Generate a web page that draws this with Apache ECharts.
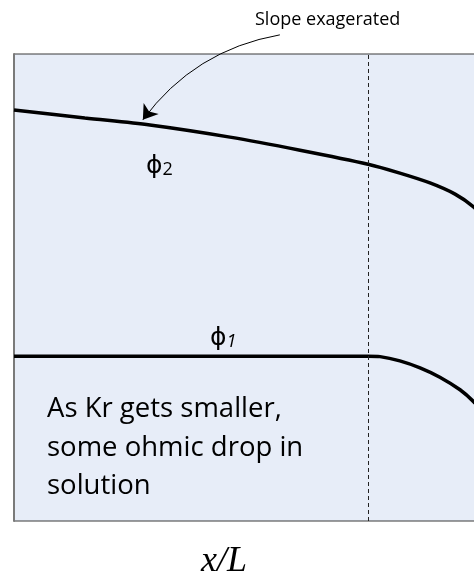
<!DOCTYPE html>
<html>
<head>
<meta charset="utf-8">
<script src="https://cdn.jsdelivr.net/npm/echarts@6/dist/echarts.min.js"></script>
<style>
  html, body { margin: 0; padding: 0; background: #ffffff; }
  #chart { width: 474px; height: 573px; }
</style>
</head>
<body>
<div id="chart"></div>
<script>
// Potential profiles along the cell, position in x/L (separator at x/L = 1)
const phi2X = [0, 0.2, 0.384, 0.61, 0.808, 1.0, 1.09, 1.175, 1.246, 1.299, 1.345];
const phi2Y = [0.880, 0.863, 0.848, 0.822, 0.794, 0.764, 0.745, 0.724, 0.700, 0.672, 0.634];
const phi1X = [0, 0.5, 1.0, 1.034, 1.090, 1.147, 1.203, 1.260, 1.299, 1.345];
const phi1Y = [0.353, 0.353, 0.353, 0.352, 0.343, 0.328, 0.308, 0.281, 0.255, 0.216];
const separatorX = 1.0;

// Annotation arrow: from the note down to the phi2 curve
const arrowFrom = [0.751, 1.041];
const arrowTo = [0.364, 0.859];

const pairs = (xs, ys) => xs.map((x, i) => [x, ys[i]]);

const chart = echarts.init(document.getElementById('chart'), null, { renderer: 'canvas' });

const curveStyle = { color: '#000000', width: 3.5 };

chart.setOption({
  animation: false,
  backgroundColor: '#ffffff',
  grid: {
    show: true,
    left: 14,
    top: 54,
    width: 495.6,
    height: 467,
    outerBoundsMode: 'none',
    containLabel: false,
    backgroundColor: '#e7edf8',
    borderColor: '#3a3a3a',
    borderWidth: 1
  },
  xAxis: {
    type: 'value',
    min: 0,
    max: 1.4,
    axisLine: { show: false },
    axisTick: { show: false },
    axisLabel: { show: false },
    splitLine: { show: false }
  },
  yAxis: {
    type: 'value',
    min: 0,
    max: 1,
    axisLine: { show: true, lineStyle: { color: '#7a7a7a', width: 2 } },
    axisTick: { show: false },
    axisLabel: { show: false },
    splitLine: { show: false }
  },
  series: [
    {
      name: 'phi2',
      type: 'line',
      data: pairs(phi2X, phi2Y),
      smooth: 0.3,
      showSymbol: false,
      lineStyle: curveStyle,
      markLine: {
        silent: true,
        symbol: ['none', 'none'],
        label: { show: false },
        lineStyle: { color: '#222222', width: 1, type: [4, 3] },
        data: [{ xAxis: separatorX }]
      }
    },
    {
      name: 'phi1',
      type: 'line',
      data: pairs(phi1X, phi1Y),
      smooth: 0.3,
      showSymbol: false,
      lineStyle: curveStyle
    },
    {
      name: 'note arrow',
      type: 'lines',
      coordinateSystem: 'cartesian2d',
      clip: false,
      symbol: ['none', 'arrow'],
      symbolSize: 14,
      lineStyle: { color: '#000000', width: 1, curveness: -0.2, opacity: 1 },
      data: [{ coords: [arrowFrom, arrowTo] }]
    }
  ],
  graphic: [
    {
      type: 'text',
      left: 255,
      top: 11,
      style: {
        text: 'Slope exagerated',
        font: '18px "Open Sans"',
        fill: '#000000'
      }
    },
    {
      type: 'text',
      x: 146,
      y: 166,
      style: {
        text: '{p|ϕ}{s|2}',
        textVerticalAlign: 'middle',
        rich: {
          p: { fontFamily: 'DejaVu Sans', fontSize: 25, fill: '#000000' },
          s: { fontFamily: 'Open Sans', fontSize: 18, fill: '#000000', verticalAlign: 'bottom' }
        }
      }
    },
    {
      type: 'text',
      x: 210,
      y: 338,
      style: {
        text: '{p|ϕ}{s|1}',
        textVerticalAlign: 'middle',
        rich: {
          p: { fontFamily: 'DejaVu Sans', fontSize: 25, fill: '#000000' },
          s: { fontFamily: 'Open Sans', fontStyle: 'italic', fontSize: 18, fill: '#000000', verticalAlign: 'bottom' }
        }
      }
    },
    {
      type: 'text',
      x: 47,
      y: 390,
      style: {
        text: 'As Kr gets smaller,\nsome ohmic drop in\nsolution',
        font: '27.5px "Open Sans"',
        lineHeight: 38.5,
        textVerticalAlign: 'top',
        fill: '#000000'
      }
    },
    {
      type: 'text',
      x: 224,
      y: 562,
      style: {
        text: 'x/L',
        font: 'italic 36px "Liberation Serif"',
        textAlign: 'center',
        textVerticalAlign: 'middle',
        fill: '#000000'
      }
    }
  ]
});
</script>
</body>
</html>
